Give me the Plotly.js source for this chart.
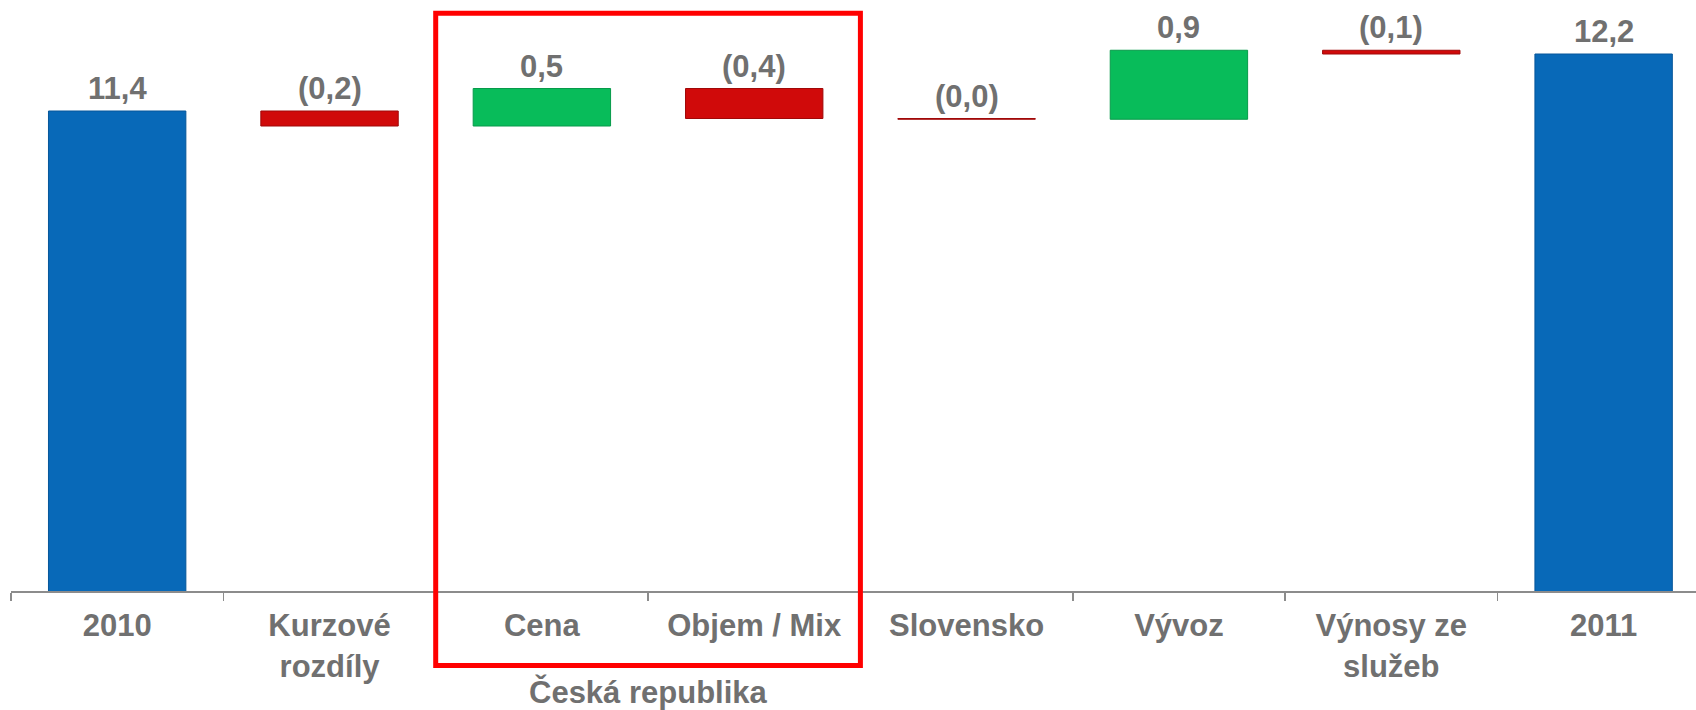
<!DOCTYPE html>
<html>
<head>
<meta charset="utf-8">
<script src="https://cdn.plot.ly/plotly-3.0.1.min.js"></script>
<style>
  html, body { margin: 0; padding: 0; overflow: hidden; background: #ffffff; }
  #chart { width: 1696px; height: 710px; }
</style>
</head>
<body>
<div id="chart"></div>
<script>
// ---- Data ----
const categories = ["2010", "Kurzové<br>rozdíly", "Cena", "Objem / Mix", "Slovensko", "Vývoz", "Výnosy ze<br>služeb", "2011"];
const measures   = ["absolute", "relative", "relative", "relative", "relative", "relative", "relative", "total"];
const values     = [11.4, -0.2, 0.5, -0.4, -0.01, 0.92, -0.05, 0];
const valueLabels = ["11,4", "(0,2)", "0,5", "(0,4)", "(0,0)", "0,9", "(0,1)", "12,2"];
const groupLabel = "Česká republika";
const groupCategories = ["Cena", "Objem / Mix"];

// ---- Styles ----
const FONT = "Liberation Sans, Arial, sans-serif";
const GRAY = "#707070";
const BLUE = "#0869B8";
const RED = "#D00A0A";
const GREEN = "#08BC5A";

// compute bar tops from the data
const tops = [];
let cum = 0;
values.forEach((v, i) => {
  let start, end;
  if (measures[i] === "absolute") { start = 0; end = v; cum = v; }
  else if (measures[i] === "relative") { start = cum; end = cum + v; cum = end; }
  else { start = 0; end = cum; }
  tops.push(Math.max(start, end));
});

const trace = {
  type: "waterfall",
  x: categories,
  y: values,
  measure: measures,
  textinfo: "none",
  hoverinfo: "skip",
  connector: { visible: false },
  increasing: { marker: { color: GREEN, line: { color: "#079a4a", width: 1 } } },
  decreasing: { marker: { color: RED, line: { color: "#a00808", width: 1 } } },
  totals: { marker: { color: BLUE, line: { color: "#06569a", width: 1 } } }
};

const annotations = categories.map((c, i) => ({
  x: i, y: tops[i], xref: "x", yref: "y",
  text: valueLabels[i], showarrow: false,
  yanchor: "bottom", yshift: 3,
  font: { family: FONT, size: 31, color: GRAY, weight: 700 }
}));

const gi0 = categories.indexOf(groupCategories[0]);
const gi1 = categories.indexOf(groupCategories[1]);

annotations.push({
  x: (gi0 + gi1) / 2, y: -0.171, xref: "x", yref: "paper",
  text: groupLabel, showarrow: false,
  xanchor: "center", yanchor: "middle",
  font: { family: FONT, size: 31, color: GRAY, weight: 700 }
});

const layout = {
  width: 1696, height: 710,
  margin: { l: 11, r: 0, t: 0, b: 119, pad: 0 },
  paper_bgcolor: "#ffffff", plot_bgcolor: "#ffffff",
  showlegend: false,
  waterfallgap: 0.353,
  xaxis: {
    type: "category",
    range: [-0.5, 7.435],
    tickson: "boundaries",
    ticks: "outside", ticklen: 8, tickwidth: 1.5, tickcolor: "#8c8c8c",
    showline: true, linecolor: "#8c8c8c", linewidth: 2,
    showgrid: false, zeroline: false,
    ticklabelstandoff: 6,
    tickfont: { family: FONT, size: 31, color: GRAY, weight: 700 },
    fixedrange: true
  },
  yaxis: {
    range: [5, 12.88],
    visible: false, showgrid: false, zeroline: false,
    fixedrange: true
  },
  annotations: annotations,
  shapes: [{
    type: "rect", xref: "x", yref: "paper",
    x0: gi0 - 0.5, x1: gi1 + 0.5, y0: -0.126, y1: 0.9775,
    line: { color: "#FF0000", width: 5 },
    fillcolor: "rgba(0,0,0,0)", layer: "above"
  }]
};

Plotly.newPlot("chart", [trace], layout, { displayModeBar: false, staticPlot: true });
</script>
</body>
</html>
